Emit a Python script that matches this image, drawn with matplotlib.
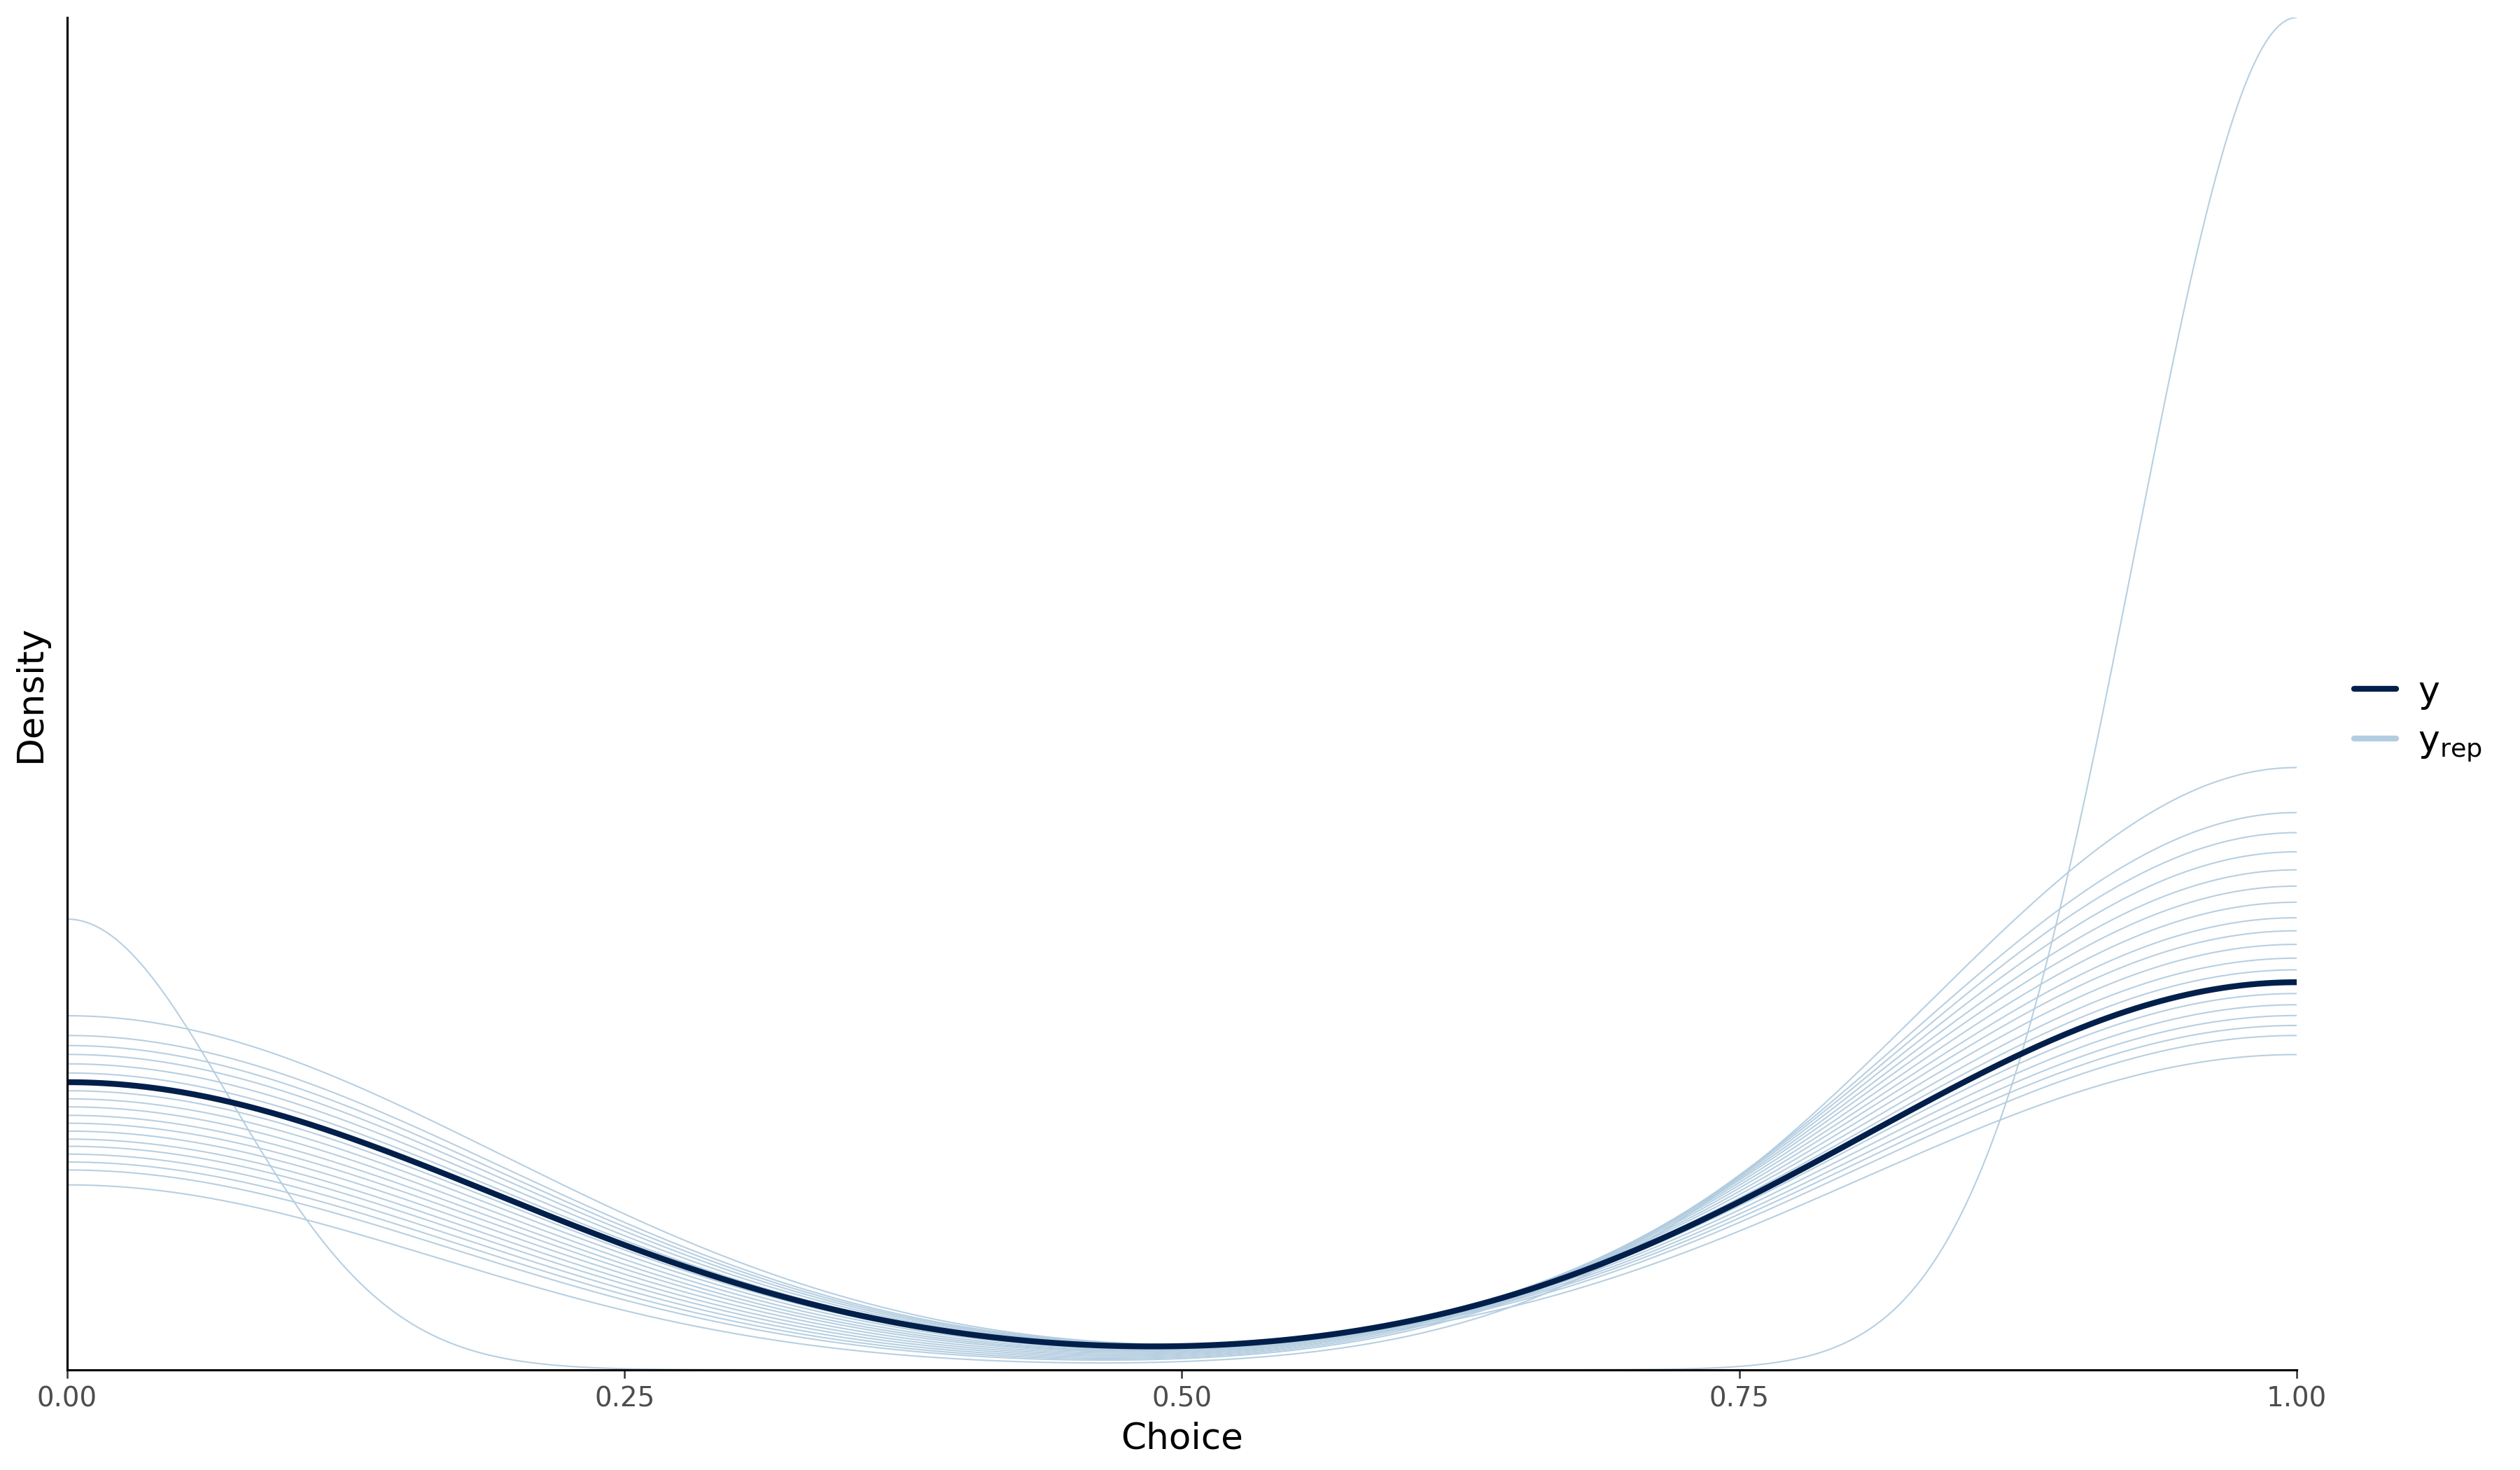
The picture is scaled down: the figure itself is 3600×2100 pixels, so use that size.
import numpy as np
import matplotlib
matplotlib.use("Agg")
import matplotlib.pyplot as plt
from matplotlib.lines import Line2D

# Données : part de choix = 1 et largeur de bande du noyau
# pour la série observée et chacune des 19 réplications
choix_obs = 0.574
bw_obs = 0.1933

choix_rep = [0.750, 0.471, 0.500, 0.515, 0.529, 0.544, 0.559, 0.589, 0.603, 0.618,
             0.633, 0.647, 0.662, 0.677, 0.691, 0.706, 0.721, 0.736, 0.765]
bw_rep = [0.0724, 0.1950, 0.1952, 0.1952, 0.1949, 0.1945, 0.1939, 0.1922, 0.1912, 0.1896,
          0.1882, 0.1868, 0.1848, 0.1827, 0.1804, 0.1779, 0.1752, 0.1724, 0.1658]

xticks = [0.0, 0.25, 0.5, 0.75, 1.0]
xticklabels = ["0.00", "0.25", "0.50", "0.75", "1.00"]

COUL_Y = "#011f4b"
COUL_YREP = "#b3cde0"


def densite(x, part_un, bw):
    # densité à noyau gaussien d'un échantillon binaire (0 / 1)
    noyau = lambda u: np.exp(-0.5 * u ** 2) / np.sqrt(2 * np.pi)
    return ((1 - part_un) * noyau(x / bw) + part_un * noyau((x - 1) / bw)) / bw


x = np.linspace(0, 1, 512)

fig = plt.figure(figsize=(12, 7), dpi=300)
ax = fig.add_axes([96 / 3600, 1 - 1957 / 2100, (3281 - 96) / 3600, (1957 - 25) / 2100])

ymax = 0
for p, bw in zip(choix_rep, bw_rep):
    d = densite(x, p, bw)
    ymax = max(ymax, d.max())
    ax.plot(x, d, color=COUL_YREP, lw=0.5, alpha=0.95)

d_obs = densite(x, choix_obs, bw_obs)
ax.plot(x, d_obs, color=COUL_Y, lw=2.0)

ax.set_xlim(0, 1)
ax.set_ylim(0, ymax)

for s in ["top", "right"]:
    ax.spines[s].set_visible(False)
for s in ["left", "bottom"]:
    ax.spines[s].set_linewidth(0.75)
    ax.spines[s].set_color("black")

ax.set_xticks(xticks)
ax.set_xticklabels(xticklabels)
ax.set_yticks([])
ax.tick_params(axis="x", length=2.9, width=0.6, color="#333333", pad=2.6,
               labelsize=9.3, labelcolor="#4d4d4d")
ax.set_xlabel("Choice", fontsize=12.4, labelpad=3)
ax.set_ylabel("Density", fontsize=12.4, labelpad=6.5)

poignees = [
    Line2D([0], [0], color=COUL_Y, lw=2.0, solid_capstyle="round"),
    Line2D([0], [0], color=COUL_YREP, lw=2.0, solid_capstyle="round"),
]
fig.legend(poignees, [r"$\mathregular{y}$", r"$\mathregular{y_{rep}}$"],
           loc="center left", bbox_to_anchor=(3342 / 3600, 1 - 1027 / 2100),
           frameon=False, fontsize=12.5, handlelength=1.15, handletextpad=0.6,
           labelspacing=0.35, borderaxespad=0)

fig.savefig("out.png", dpi=300)
